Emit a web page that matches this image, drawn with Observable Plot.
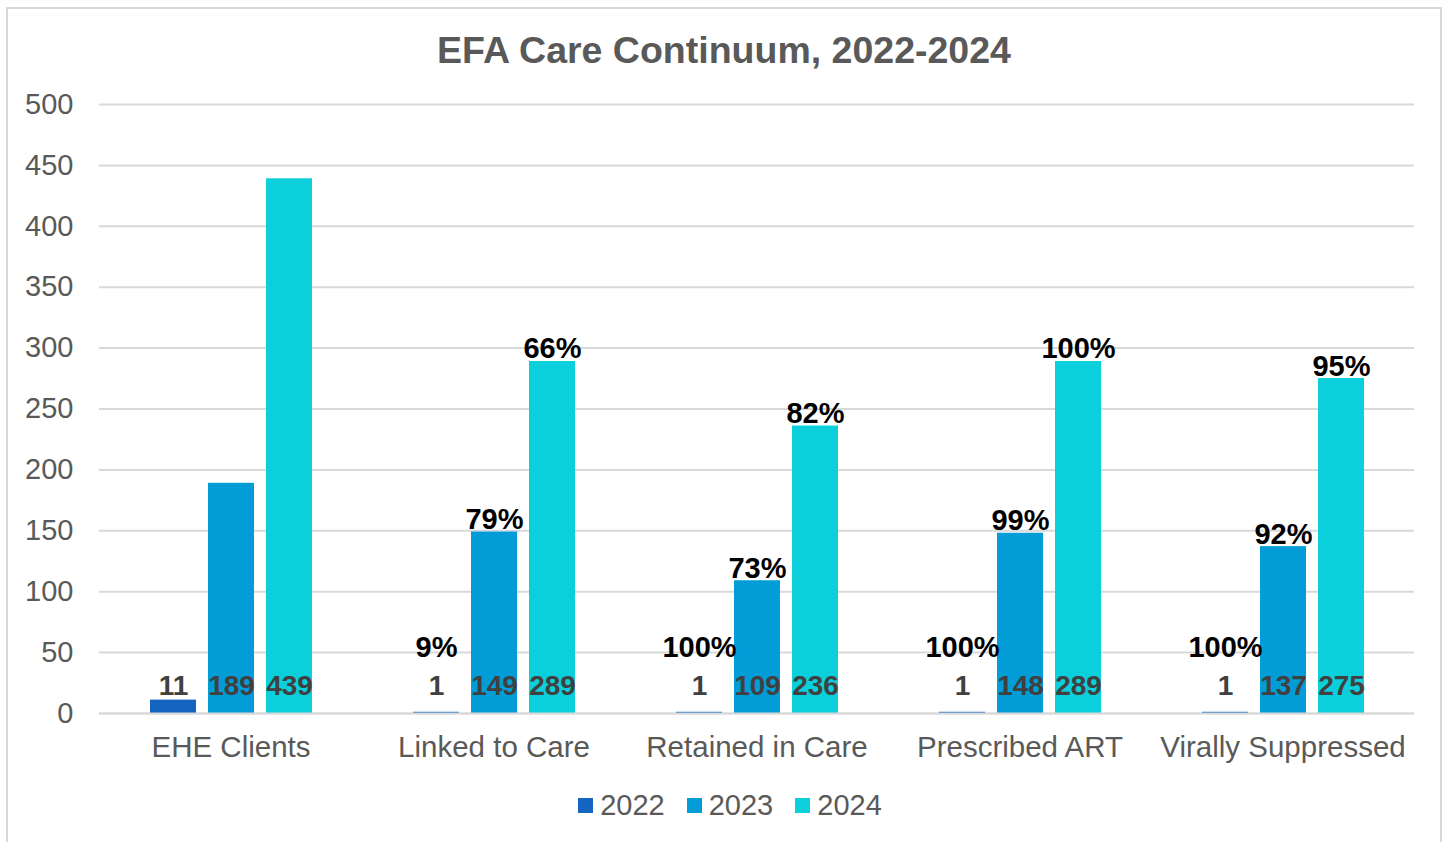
<!DOCTYPE html>
<html>
<head>
<meta charset="utf-8">
<script src="https://cdn.jsdelivr.net/npm/d3@7"></script>
<script src="https://cdn.jsdelivr.net/npm/@observablehq/plot@0.6"></script>
<style>
  html, body { margin: 0; padding: 0; background: #fff; }
  body { width: 1448px; height: 842px; overflow: hidden; position: relative; font-family: "Liberation Sans", Arial, sans-serif; }
  #frame { position: absolute; left: 6px; top: 7px; width: 1436px; height: 900px; border: 2px solid #d9d9d9; box-sizing: border-box; }
  #title { position: absolute; left: 0; top: 28px; width: 1448px; text-align: center; font-size: 37.5px; font-weight: bold; color: #595959; line-height: 44px; }
  #chart { position: absolute; left: 0; top: 80px; }
  #legend { position: absolute; left: 0; top: 787px; width: 1448px; display: flex; justify-content: center; align-items: center; font-size: 29px; color: #595959; line-height: 36px; padding-left: 12px; box-sizing: border-box; }
  .item { display: flex; align-items: center; margin: 0 11px; }
  .sw { width: 15px; height: 15px; margin-right: 7px; }
</style>
</head>
<body>
<div id="frame"></div>
<div id="title">EFA Care Continuum, 2022-2024</div>
<div id="chart"></div>
<div id="legend"></div>
<script>
const categories = ["EHE Clients", "Linked to Care", "Retained in Care", "Prescribed ART", "Virally Suppressed"];
const years = ["2022", "2023", "2024"];
const colors = ["#1565c0", "#029cd6", "#0bcfda"];
const values2022 = [11, 1, 1, 1, 1];
const values2023 = [189, 149, 109, 148, 137];
const values2024 = [439, 289, 236, 289, 275];
const pct2022 = [null, "9%", "100%", "100%", "100%"];
const pct2023 = [null, "79%", "73%", "99%", "92%"];
const pct2024 = [null, "66%", "82%", "100%", "95%"];
const yTicks = [0, 50, 100, 150, 200, 250, 300, 350, 400, 450, 500];

const series = [values2022, values2023, values2024];
const pcts = [pct2022, pct2023, pct2024];
const rows = [];
categories.forEach((c, i) => {
  years.forEach((y, j) => {
    rows.push({category: c, year: y, value: series[j][i], pct: pcts[j][i]});
  });
});
const pctRows = rows.filter(d => d.pct != null);

const chart = Plot.plot({
  width: 1448,
  height: 693,
  marginLeft: 98,
  marginRight: 34,
  marginTop: 24,
  marginBottom: 60,
  style: {fontFamily: "'Liberation Sans', Arial, sans-serif", background: "transparent"},
  fx: {domain: categories, paddingInner: 0, paddingOuter: 0, label: null},
  x: {domain: years, paddingInner: 0.207, paddingOuter: 0.85, axis: null},
  y: {domain: [0, 500], ticks: yTicks, label: null},
  color: {domain: years, range: colors},
  marks: [
    Plot.gridY(yTicks, {stroke: "#d9d9d9", strokeOpacity: 1, strokeWidth: 2}),
    Plot.barY(rows, {fx: "category", x: "year", y: "value", fill: "year"}),
    Plot.ruleY([0], {stroke: "#d9d9d9", strokeWidth: 2}),
    Plot.text(rows, {fx: "category", x: "year", y: 0, text: d => String(d.value), lineAnchor: "bottom", dy: -19, fontSize: 28, fontWeight: "bold", fill: "#404040"}),
    Plot.text(pctRows, {fx: "category", x: "year", y: d => Math.max(d.value, 44), text: "pct", lineAnchor: "bottom", dy: -3, fontSize: 29, fontWeight: "bold", fill: "#000"}),
    Plot.axisY(yTicks, {tickSize: 0, tickPadding: 26, fontSize: 29, fill: "#595959", tickFormat: d => String(d), label: null}),
    Plot.axisFx({anchor: "bottom", tickSize: 0, tickPadding: 23, fontSize: 29.5, fill: "#595959", label: null})
  ]
});
document.getElementById("chart").appendChild(chart);

const legend = document.getElementById("legend");
years.forEach((y, i) => {
  const it = document.createElement("div");
  it.className = "item";
  const sw = document.createElement("div");
  sw.className = "sw";
  sw.style.background = colors[i];
  const t = document.createElement("span");
  t.textContent = y;
  it.appendChild(sw);
  it.appendChild(t);
  legend.appendChild(it);
});
</script>
</body>
</html>
